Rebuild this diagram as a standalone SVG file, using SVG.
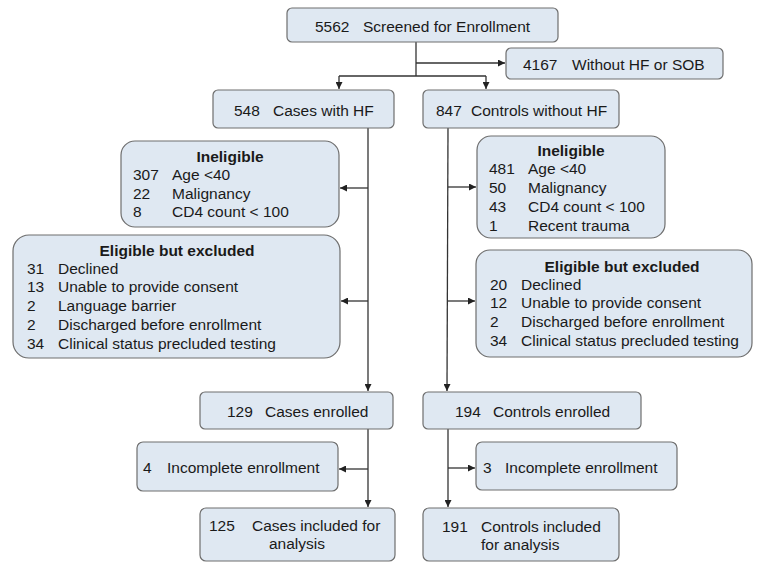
<svg xmlns="http://www.w3.org/2000/svg" width="758" height="562" viewBox="0 0 758 562">
<style>
.box{fill:#dfe8f2;stroke:#6e6e6e;stroke-width:1.2}
.t{font-family:"Liberation Sans",Arial,sans-serif;font-size:15.5px;fill:#1a1a1a}
.b{font-weight:bold}
.m{text-anchor:middle}
.c{fill:none;stroke:#333;stroke-width:1.3}
</style>
<defs>
<marker id="ah" markerUnits="userSpaceOnUse" markerWidth="8" markerHeight="7" refX="7" refY="3.5" orient="auto">
<path d="M0,0 L7,3.5 L0,7 z" fill="#222"/>
</marker>
</defs>
<rect width="758" height="562" fill="#fff"/>
<g id="connectors">
<path class="c" d="M416,42 V76"/>
<path class="c" d="M416,63 H505" marker-end="url(#ah)"/>
<path class="c" d="M339,76 H486"/>
<path class="c" d="M339,76 V89" marker-end="url(#ah)"/>
<path class="c" d="M486,76 V89" marker-end="url(#ah)"/>
<path class="c" d="M368,128 V391" marker-end="url(#ah)"/>
<path class="c" d="M368,188 H340" marker-end="url(#ah)"/>
<path class="c" d="M368,301 H341" marker-end="url(#ah)"/>
<path class="c" d="M448,128 L447,391" marker-end="url(#ah)"/>
<path class="c" d="M448,187 H476" marker-end="url(#ah)"/>
<path class="c" d="M448,301 H475" marker-end="url(#ah)"/>
<path class="c" d="M368,429 V507" marker-end="url(#ah)"/>
<path class="c" d="M368,469 H339" marker-end="url(#ah)"/>
<path class="c" d="M448,429 V507" marker-end="url(#ah)"/>
<path class="c" d="M448,468 H475" marker-end="url(#ah)"/>
</g>
<g id="screened">
<rect class="box" x="287" y="8" width="271" height="34" rx="5"/>
<text class="t" x="315" y="32">5562</text><text class="t" x="363" y="32">Screened for Enrollment</text>
</g>
<g id="without">
<rect class="box" x="506" y="48" width="217" height="31" rx="5"/>
<text class="t" x="523" y="70">4167</text><text class="t" x="572" y="70">Without HF or SOB</text>
</g>
<g id="cases">
<rect class="box" x="213" y="90" width="181" height="38" rx="5"/>
<text class="t" x="234" y="116">548</text><text class="t" x="273" y="116">Cases with HF</text>
</g>
<g id="controls">
<rect class="box" x="423" y="90" width="196" height="38" rx="5"/>
<text class="t" x="436" y="116">847</text><text class="t" x="471" y="116">Controls without HF</text>
</g>
<g id="inelig-cases">
<rect class="box" x="121" y="141" width="218" height="86" rx="14"/>
<text class="t b m" x="230" y="162">Ineligible</text>
<text class="t" x="133" y="180">307</text><text class="t" x="172" y="180">Age &lt;40</text>
<text class="t" x="133" y="199">22</text><text class="t" x="172" y="199">Malignancy</text>
<text class="t" x="133" y="217">8</text><text class="t" x="172" y="217">CD4 count &lt; 100</text>
</g>
<g id="excl-cases">
<rect class="box" x="13" y="235" width="327" height="123" rx="16"/>
<text class="t b m" x="177" y="256">Eligible but excluded</text>
<text class="t" x="27" y="274">31</text><text class="t" x="58" y="274">Declined</text>
<text class="t" x="27" y="292">13</text><text class="t" x="58" y="292">Unable to provide consent</text>
<text class="t" x="27" y="311">2</text><text class="t" x="58" y="311">Language barrier</text>
<text class="t" x="27" y="330">2</text><text class="t" x="58" y="330">Discharged before enrollment</text>
<text class="t" x="27" y="349">34</text><text class="t" x="58" y="349">Clinical status precluded testing</text>
</g>
<g id="inelig-controls">
<rect class="box" x="477" y="136" width="188" height="102" rx="14"/>
<text class="t b m" x="571" y="156">Ineligible</text>
<text class="t" x="489" y="174">481</text><text class="t" x="528" y="174">Age &lt;40</text>
<text class="t" x="489" y="193">50</text><text class="t" x="528" y="193">Malignancy</text>
<text class="t" x="489" y="212">43</text><text class="t" x="528" y="212">CD4 count &lt; 100</text>
<text class="t" x="489" y="231">1</text><text class="t" x="528" y="231">Recent trauma</text>
</g>
<g id="excl-controls">
<rect class="box" x="476" y="250" width="276" height="107" rx="14"/>
<text class="t b m" x="622" y="272">Eligible but excluded</text>
<text class="t" x="490" y="290">20</text><text class="t" x="521" y="290">Declined</text>
<text class="t" x="490" y="308">12</text><text class="t" x="521" y="308">Unable to provide consent</text>
<text class="t" x="490" y="327">2</text><text class="t" x="521" y="327">Discharged before enrollment</text>
<text class="t" x="490" y="346">34</text><text class="t" x="521" y="346">Clinical status precluded testing</text>
</g>
<g id="cases-enrolled">
<rect class="box" x="200" y="392" width="193" height="37" rx="5"/>
<text class="t" x="227" y="417">129</text><text class="t" x="265" y="417">Cases enrolled</text>
</g>
<g id="controls-enrolled">
<rect class="box" x="423" y="392" width="218" height="37" rx="5"/>
<text class="t" x="455" y="417">194</text><text class="t" x="493" y="417">Controls enrolled</text>
</g>
<g id="incomplete-cases">
<rect class="box" x="137" y="442" width="201" height="49" rx="6"/>
<text class="t" x="143" y="473">4</text><text class="t" x="167" y="473">Incomplete enrollment</text>
</g>
<g id="incomplete-controls">
<rect class="box" x="476" y="442" width="201" height="48" rx="6"/>
<text class="t" x="483" y="473">3</text><text class="t" x="505" y="473">Incomplete enrollment</text>
</g>
<g id="cases-included">
<rect class="box" x="200" y="508" width="195" height="53" rx="6"/>
<text class="t" x="209" y="531">125</text><text class="t" x="252" y="531">Cases included for</text>
<text class="t m" x="297" y="549">analysis</text>
</g>
<g id="controls-included">
<rect class="box" x="423" y="508" width="196" height="53" rx="6"/>
<text class="t" x="442" y="532">191</text><text class="t" x="481" y="532">Controls included</text>
<text class="t" x="481" y="550">for analysis</text>
</g>
</svg>
